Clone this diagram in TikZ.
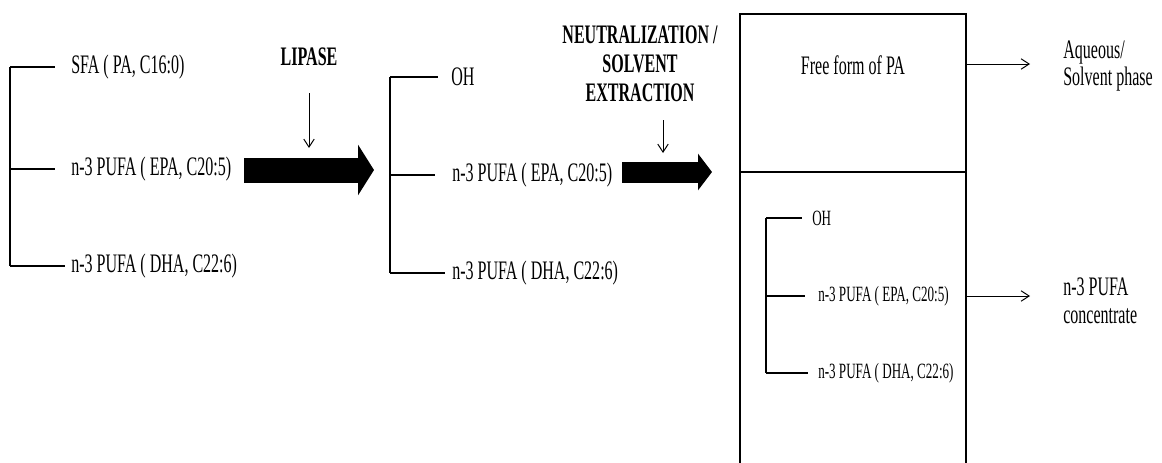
\documentclass[tikz,border=0pt]{standalone}
\usepackage{fontspec}
\setmainfont[FakeStretch=0.6]{Liberation Serif}
\usetikzlibrary{positioning,arrows.meta}
\tikzset{
  chain/.style={line width=1pt},
  thinarrow/.style={-{Straight Barb[length=2mm,width=2.6mm]}, line width=0.7pt},
  fatarrow/.style={line width=#1, -{Triangle[length=0.4cm,width=1.25cm]}},
  item/.style={anchor=west, inner sep=0pt, font=\fontsize{19}{22}\selectfont},
  smallitem/.style={anchor=west, inner sep=0pt, font=\fontsize{15.5}{18}\selectfont},
  steplabel/.style={align=center, inner sep=0pt, font=\bfseries\fontsize{19}{20.6}\selectfont},
  phase/.style={anchor=west, align=left, inner sep=0pt, font=\fontsize{19}{19.8}\selectfont}
}

\begin{document}
\begin{tikzpicture}[x=0.025cm, y=-0.025cm]
  \useasboundingbox (0,0) rectangle (1162,462);

  % triglyceride before hydrolysis
  \coordinate (b1) at (10,67);
  \coordinate (b2) at (10,169);
  \coordinate (b3) at (10,266);
  \node[item] (sfa) at (71,67) {SFA ( PA, C16:0)};
  \node[item] (epa1) at (71,169) {n-3 PUFA ( EPA, C20:5)};
  \node[item] (dha1) at (71,266) {n-3 PUFA ( DHA, C22:6)};
  \draw[chain] (b1) -- (b3);
  \draw[chain, shorten >=0.4cm] (b1) -- (sfa);
  \draw[chain, shorten >=0.4cm] (b2) -- (epa1);
  \draw[chain, shorten >=0.15cm] (b3) -- (dha1);

  % lipase step
  \node[steplabel] (lipase) at (309,57) {LIPASE};
  \coordinate (l1) at (309,93);
  \coordinate (l2) at (309,148);
  \draw[thinarrow] (l1) -- (l2);
  \coordinate (f1) at (244,170);
  \coordinate (f2) at (374,170);
  \draw[fatarrow=0.625cm] (f1) -- (f2);

  % after hydrolysis
  \coordinate (m1) at (390,77);
  \coordinate (m2) at (390,175);
  \coordinate (m3) at (390,273);
  \node[item] (oh2) at (451,77) {OH};
  \node[item] (epa2) at (452,175) {n-3 PUFA ( EPA, C20:5)};
  \node[item] (dha2) at (452,273) {n-3 PUFA ( DHA, C22:6)};
  \draw[chain] (m1) -- (m3);
  \draw[chain, shorten >=0.33cm] (m1) -- (oh2);
  \draw[chain, shorten >=0.42cm] (m2) -- (epa2);
  \draw[chain, shorten >=0.18cm] (m3) -- (dha2);

  % neutralization step
  \node[steplabel] (neutral) at (640,64) {NEUTRALIZATION /\\SOLVENT\\EXTRACTION};
  \coordinate (n1) at (663,120);
  \coordinate (n2) at (663,153);
  \draw[thinarrow] (n1) -- (n2);
  \coordinate (g1) at (622,172);
  \coordinate (g2) at (712,172);
  \draw[fatarrow=0.525cm, -{Triangle[length=0.35cm,width=0.9cm]}] (g1) -- (g2);

  % separation vessel
  \coordinate (vtl) at (740,14);
  \coordinate (vtr) at (966,14);
  \coordinate (vbl) at (740,470);
  \coordinate (vbr) at (966,470);
  \draw[line width=1.4pt] (vbl) -- (vtl) -- (vtr) -- (vbr);
  \draw[line width=2pt] (vtl) -- (vtr);
  \coordinate (dl) at (740,172);
  \coordinate (dr) at (966,172);
  \draw[chain] (dl) -- (dr);
  \node[item, anchor=center] (freepa) at (853,65) {Free form of PA};

  % concentrate in the lower phase
  \coordinate (c1) at (766,218);
  \coordinate (c2) at (766,296);
  \coordinate (c3) at (766,373);
  \node[smallitem] (oh3) at (812,218) {OH};
  \node[smallitem] (epa3) at (818,296) {n-3 PUFA ( EPA, C20:5)};
  \node[smallitem] (dha3) at (818,373) {n-3 PUFA ( DHA, C22:6)};
  \draw[chain] (c1) -- (c3);
  \draw[chain, shorten >=0.25cm] (c1) -- (oh3);
  \draw[chain, shorten >=0.33cm] (c2) -- (epa3);
  \draw[chain, shorten >=0.25cm] (c3) -- (dha3);

  % outputs
  \coordinate (o1) at (966,64);
  \coordinate (o2) at (1030,64);
  \coordinate (o3) at (966,296);
  \coordinate (o4) at (1030,296);
  \draw[thinarrow] (o1) -- (o2);
  \draw[thinarrow] (o3) -- (o4);
  \node[phase] (aqueous) at (1063,66) {Aqueous/\\Solvent phase};
  \node[phase] (conc) at (1063,301) {n-3 PUFA\\concentrate};
\end{tikzpicture}
\end{document}
